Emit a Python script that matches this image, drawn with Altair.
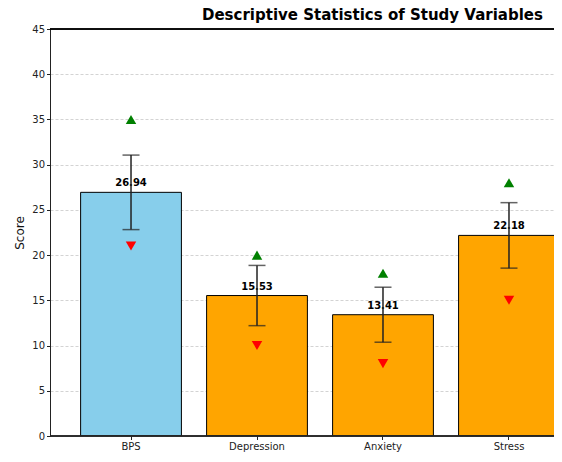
import altair as alt
import pandas as pd

categories = ["BPS", "Depression", "Anxiety", "Stress"]
means = [26.94, 15.53, 13.41, 22.18]
sds = [4.12, 3.33, 3.04, 3.62]
maxs = [35, 20, 18, 28]
mins = [21, 10, 8, 15]
colors = ["#87CEEB", "#FFA500", "#FFA500", "#FFA500"]

df = pd.DataFrame({
    "cat": categories,
    "mean": means,
    "sd": sds,
    "max": maxs,
    "min": mins,
    "color": colors,
})
df["lo"] = df["mean"] - df["sd"]
df["hi"] = df["mean"] + df["sd"]
df["label"] = df["mean"].map(lambda v: f"{v:.2f}")

FONT = "DejaVu Sans"

x = alt.X("cat:N", sort=categories, title=None,
          scale=alt.Scale(range=[0, 540], paddingInner=0.2, paddingOuter=0.243),
          axis=alt.Axis(labelAngle=0, labelFontSize=10, labelColor="#222", tickSize=3.5,
                        tickColor="#222", domain=False, labelPadding=2, labelFont=FONT))
y = alt.Y("mean:Q", title="Score",
          scale=alt.Scale(domain=[0, 45], nice=False),
          axis=alt.Axis(values=list(range(0, 50, 5)), labelFontSize=10, labelColor="#222",
                        tickSize=3.5, tickColor="#222", domainColor="#222", grid=True,
                        gridDash=[3, 2], gridColor="#c8c8c8", gridWidth=0.8,
                        titleFontSize=12, titleFontWeight="normal", titleColor="#111",
                        titlePadding=5, labelFont=FONT, titleFont=FONT))

base = alt.Chart(df)

bars = base.mark_bar(stroke="black", strokeWidth=1, clip=True).encode(
    x=x, y=y, color=alt.Color("color:N", scale=None))

top = base.mark_rule(color="black", strokeWidth=1).encode(y=alt.datum(45))
bottom = base.mark_rule(color="#222", strokeWidth=1).encode(y=alt.datum(0))

text = base.mark_text(fontWeight="bold", fontSize=10, baseline="bottom", dy=-4,
                      font=FONT, color="black").encode(
    x=alt.X("cat:N", sort=categories), y="mean:Q", text="label:N")

err = base.mark_rule(color="#222", strokeWidth=1.5).encode(
    x=alt.X("cat:N", sort=categories), y="lo:Q", y2="hi:Q")
cap_hi = base.mark_tick(color="#222", thickness=1.5, size=17).encode(
    x=alt.X("cat:N", sort=categories), y="hi:Q")
cap_lo = base.mark_tick(color="#222", thickness=1.5, size=17).encode(
    x=alt.X("cat:N", sort=categories), y="lo:Q")

up = base.mark_point(shape="triangle-up", filled=True, color="green", size=110, opacity=1).encode(
    x=alt.X("cat:N", sort=categories), y="max:Q")
down = base.mark_point(shape="triangle-down", filled=True, color="red", size=110, opacity=1).encode(
    x=alt.X("cat:N", sort=categories), y="min:Q")

chart = alt.layer(bars, top, bottom, text, err, cap_hi, cap_lo, up, down).properties(
    width=504, height=407,
    title=alt.TitleParams("Descriptive Statistics of Study Variables", anchor="start",
                          frame="group", dx=152, fontSize=15, fontWeight="bold", font=FONT,
                          color="black", offset=1),
    autosize=alt.AutoSizeParams(type="none"),
    padding={"left": 42, "top": 21, "right": 0, "bottom": 18},
).configure_view(stroke=None)

chart.save("out.html", embed_options={"renderer": "svg", "actions": False})
